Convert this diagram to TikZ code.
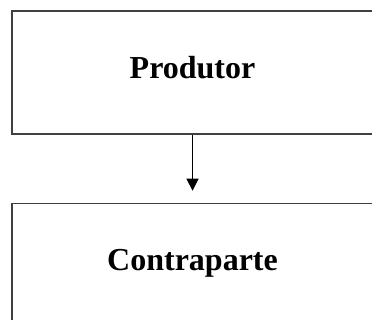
\documentclass[tikz,border=0pt]{standalone}
\usepackage{fontspec}
\setmainfont{Liberation Serif}
\usepackage{tikz}
\usetikzlibrary{positioning,arrows.meta}

\begin{document}
\begin{tikzpicture}[node distance=51pt,
							caixa/.style={rectangle,draw=black!75,line width=1pt,
								minimum width=270.75pt,minimum height=92.25pt,inner sep=0pt,
								text height=22.5pt,text depth=14.25pt,
								font=\fontsize{24}{28}\selectfont\bfseries},
							seta/.style={-{Triangle[length=9pt,width=9pt]},line width=0.8pt,shorten >=9pt},]
			\useasboundingbox (0,0) rectangle (279pt,-240pt);
			\clip (0,0) rectangle (279pt,-240pt);
			\node[caixa] (prod) at (144.4pt,-54.4pt) {Produtor};
			\node[caixa, below=of prod] (contra) {Contraparte};
			\draw[seta] (prod.south) -- (contra.north);
		\end{tikzpicture}
\end{document}
